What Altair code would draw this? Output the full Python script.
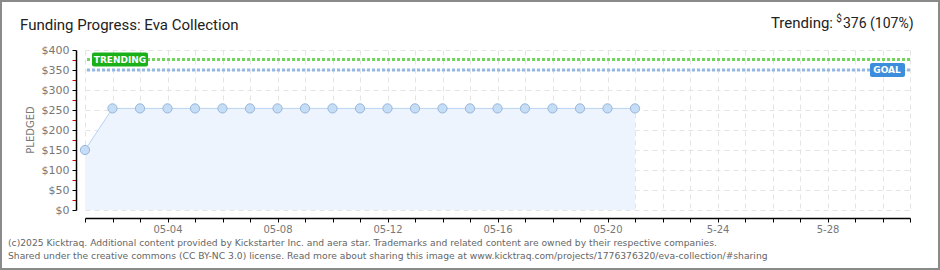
import altair as alt
import pandas as pd

# ---- data ----
days = [1, 2, 3, 4, 5, 6, 7, 8, 9, 10, 11, 12, 13, 14, 15, 16, 17, 18, 19, 20, 21]
pledged = [150, 254, 254, 254, 254, 254, 254, 254, 254, 254, 254, 254, 254, 254, 254, 254, 254, 254, 254, 254, 254]
goal = 350
trending = 376
tick_days = [4, 8, 12, 16, 20, 24, 28]
tick_labels = ["05-04", "05-08", "05-12", "05-16", "05-20", "5-24", "5-28"]
title_text = "Funding Progress: Eva Collection"
trend_label = "Trending:"
trend_value = "376 (107%)"
footer1 = "(c)2025 Kicktraq. Additional content provided by Kickstarter Inc. and aera star. Trademarks and related content are owned by their respective companies."
footer2 = "Shared under the creative commons (CC BY-NC 3.0) license. Read more about sharing this image at www.kicktraq.com/projects/1776376320/eva-collection/#sharing"

df = pd.DataFrame({"day": days, "pledged": pledged})
lines_df = pd.DataFrame({"v": [trending, goal], "kind": ["trend", "goal"]})

label_map = {d: l for d, l in zip(tick_days, tick_labels)}
arr = ",".join("'" + label_map.get(i, "") + "'" for i in range(1, 32))
label_expr = f"[{arr}][datum.value - 1]"

W, H = 825, 160
GRID = "#e4e4e4"
AX_FONT = "DejaVu Sans"

xscale = alt.Scale(domain=[1, 31], nice=False, zero=False)
yscale = alt.Scale(domain=[0, 400], nice=False)

xaxis = alt.Axis(
    values=list(range(1, 32)), labelExpr=label_expr, title=None,
    domainColor="black", domainWidth=1.5, tickColor="black", tickSize=4, offset=8,
    labelColor="#777", labelFont=AX_FONT, labelFontSize=10, labelPadding=2,
    grid=True, gridColor=GRID, gridDash=[5, 4], labelFlush=False, labelOverlap=False,
)
yaxis = alt.Axis(
    values=list(range(0, 401, 25)),
    labelExpr="datum.value % 50 === 0 ? '$' + datum.value : ''",
    title=None, domainColor="black", domainWidth=1.5, tickSize=4, offset=9,
    tickColor={"condition": {"test": "datum.value % 50 === 0", "value": "black"}, "value": "#e00000"},
    gridOpacity={"condition": {"test": "datum.value % 50 === 0", "value": 1}, "value": 0},
    labelColor="#777", labelFont=AX_FONT, labelFontSize=11, labelPadding=3,
    grid=True, gridColor=GRID, gridDash=[5, 4], labelOverlap=False,
)

X = alt.X("day:Q", scale=xscale, axis=xaxis)
Y = alt.Y("pledged:Q", scale=yscale, axis=yaxis)
YV = alt.Y("v:Q", scale=yscale, axis=yaxis)

base = alt.Chart(df)

area = base.mark_area(color="#edf4fd", opacity=1).encode(x=X, y=Y)
line = base.mark_line(color="#b8d3f2", strokeWidth=1).encode(x=X, y=Y)
pts = base.mark_point(filled=True, fill="#c6ddf6", stroke="#97b6dc", strokeWidth=1, size=85, opacity=1).encode(x=X, y=Y)

trend_rule = alt.Chart(lines_df).transform_filter("datum.kind === 'trend'").mark_rule(
    color="#72d45e", strokeWidth=3, strokeDash=[3, 2]
).encode(y=YV)
goal_rule = alt.Chart(lines_df).transform_filter("datum.kind === 'goal'").mark_rule(
    color="#93b8e4", strokeWidth=3, strokeDash=[3, 2]
).encode(y=YV)

trend_box = alt.Chart(lines_df).transform_filter("datum.kind === 'trend'").mark_rect(
    color="#1ab01a", cornerRadius=2, yOffset=-7, y2Offset=7
).encode(x=alt.value(7), x2=alt.value(63), y=YV, y2="v:Q")
trend_lbl = alt.Chart(lines_df).transform_filter("datum.kind === 'trend'").mark_text(
    color="white", font=AX_FONT, fontSize=9, fontWeight="bold", align="center", baseline="middle"
).encode(x=alt.value(35), y=YV, text=alt.value("TRENDING"))

goal_box = alt.Chart(lines_df).transform_filter("datum.kind === 'goal'").mark_rect(
    color="#3d8ddd", cornerRadius=2, yOffset=-7, y2Offset=7
).encode(x=alt.value(785), x2=alt.value(820), y=YV, y2="v:Q")
goal_lbl = alt.Chart(lines_df).transform_filter("datum.kind === 'goal'").mark_text(
    color="white", font=AX_FONT, fontSize=9, fontWeight="bold", align="center", baseline="middle"
).encode(x=alt.value(802), y=YV, text=alt.value("GOAL"))

one = alt.Data(values=[{"a": 1}])

title = alt.Chart(one).mark_text(
    align="left", baseline="alphabetic", font="Roboto", fontSize=15, color="#222"
).encode(x=alt.value(20 - 85), y=alt.value(30 - 50), text=alt.value(title_text))
trend_t1 = alt.Chart(one).mark_text(
    align="right", baseline="alphabetic", font="Roboto", fontSize=15, color="#222"
).encode(x=alt.value(833 - 85), y=alt.value(28 - 50), text=alt.value(trend_label))
trend_t2 = alt.Chart(one).mark_text(
    align="center", baseline="alphabetic", font="Roboto", fontSize=10, color="#222"
).encode(x=alt.value(839 - 85), y=alt.value(22 - 50), text=alt.value("$"))
trend_t3 = alt.Chart(one).mark_text(
    align="left", baseline="alphabetic", font="Roboto", fontSize=14, color="#222"
).encode(x=alt.value(843 - 85), y=alt.value(28 - 50), text=alt.value(trend_value))
ytitle = alt.Chart(one).mark_text(
    align="center", baseline="middle", font=AX_FONT, fontSize=10, color="#777", angle=270
).encode(x=alt.value(31 - 85), y=alt.value(130 - 50), text=alt.value("PLEDGED"))
f1 = alt.Chart(one).mark_text(
    align="left", baseline="alphabetic", font=AX_FONT, fontSize=9.2, color="#666"
).encode(x=alt.value(8 - 85), y=alt.value(246 - 50), text=alt.value(footer1))
f2 = alt.Chart(one).mark_text(
    align="left", baseline="alphabetic", font=AX_FONT, fontSize=9.2, color="#666"
).encode(x=alt.value(8 - 85), y=alt.value(259 - 50), text=alt.value(footer2))
border = alt.Chart(one).mark_rect(fill=None, stroke="#8a8a8a", strokeWidth=2).encode(
    x=alt.value(-84), x2=alt.value(854), y=alt.value(-49), y2=alt.value(219)
)

chart = alt.layer(
    area, line, goal_rule, trend_rule, pts, trend_box, trend_lbl, goal_box, goal_lbl,
    title, trend_t1, trend_t2, trend_t3, ytitle, f1, f2, border
).properties(
    width=W, height=H,
    autosize=alt.AutoSizeParams(type="none"),
    padding={"left": 85, "top": 50, "right": 30, "bottom": 60},
    background="white",
).configure_view(stroke=None)

chart.save("out.html", embed_options={"renderer": "svg", "actions": False})
